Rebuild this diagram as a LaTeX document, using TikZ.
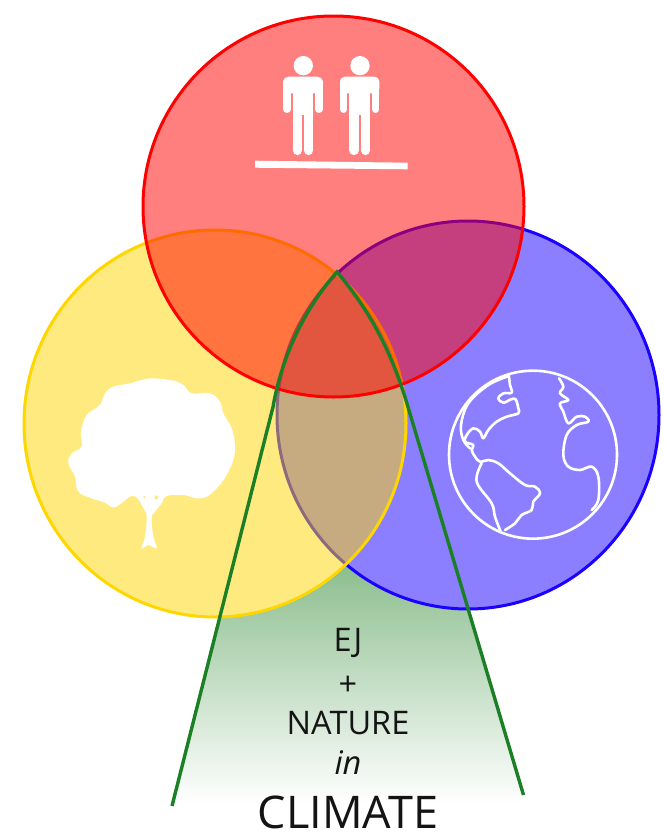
\documentclass[tikz,border=0pt]{standalone}
\usepackage{fontspec}
\setmainfont{Open Sans}
\definecolor{cred}{HTML}{FF0000}
\definecolor{cyel}{HTML}{FFD700}
\definecolor{cblu}{HTML}{1A00FF}
\definecolor{cgrn}{HTML}{1B7F25}
\definecolor{cgrad}{HTML}{8CBE8E}
\definecolor{cyelfill}{HTML}{FFEB80}
\tikzset{
  venn/.style={line width=3pt,fill opacity=.5,draw opacity=1},
  lbl/.style={inner sep=0pt,text=black!92,font=\fontsize{32.5}{33}\selectfont},
  iconfill/.style={fill=white,draw=none},
  iconline/.style={draw=white,line width=2.6pt,line join=round,line cap=round},
}
\newcommand{\redcirc}{(333.5,206.5) ellipse [x radius=190.5,y radius=190.5]}
\newcommand{\yelcirc}{(215,423.5) ellipse [x radius=191,y radius=193.5]}
\newcommand{\blucirc}{(468,415) ellipse [x radius=191,y radius=194]}
\newcommand{\personicon}[1]{%
  \begin{scope}[shift={(#1,0)},xscale=1/3,yscale=1/3]
    \fill[white] (0,77) circle (29);
    \fill[white,rounded corners=5pt] (-60,160) -- (-60,110) -- (58,110) -- (58,160) -- cycle;
    \fill[white] (-32,125) rectangle (30,225);
    \draw[white,line width=7.3pt,line cap=round] (-49,125) -- (-49,208);
    \draw[white,line width=7.3pt,line cap=round] (47,125) -- (47,208);
    \draw[white,line width=9.6pt,line cap=round] (-18,215) -- (-18,331);
    \draw[white,line width=9.6pt,line cap=round] (16,215) -- (16,331);
  \end{scope}}
\begin{document}
\begin{tikzpicture}[x=1pt,y=-1pt]
\useasboundingbox (0,0) rectangle (664,835);
\fill[white] (0,0) rectangle (664,835);
% gradient funnel
\begin{scope}
  \clip (172,806) -- (273,407) .. controls (281,360) and (303,310) .. (337,272)
        .. controls (365,305) and (390,345) .. (408,407) -- (523,795) -- (523,806) -- cycle;
  \shade[top color=cgrad,bottom color=white,shading angle=0] (100,565) rectangle (600,803);
\end{scope}
% masks
\fill[white] \blucirc;
\fill[white] \yelcirc;
\fill[white] \redcirc;
% venn circles
\path[venn,draw=cblu,fill=cblu] \blucirc;
\path[venn,draw=cyel,fill=cyel] \yelcirc;
\path[venn,draw=cred,fill=cred] \redcirc;
% green outline
\draw[cgrn,line width=3.4pt,line join=miter] (172,806) -- (273,407) .. controls (281,360) and (303,310) .. (337,272)
        .. controls (365,305) and (390,345) .. (408,407) -- (523.5,795);
% people
\begin{scope}[shift={(240,40)}]
  \personicon{63.3}
  \personicon{120}
\end{scope}
\fill[white] (255,160.7) -- (407.7,162.7) -- (407.7,169.3) -- (255,167.7) -- cycle;
% tree
\begin{scope}[shift={(50,360)},xscale=1/3,yscale=1/3]
  \fill[white] plot[smooth cycle,tension=.65] coordinates {
    (310,55) (370,62) (400,75) (425,100) (480,100) (510,125) (520,160) (545,205)
    (555,255) (550,300) (527,350) (500,385) (470,410) (440,415) (400,405) (350,408) (335,430)
    (315,455) (305,475) (310,530) (320,565) (295,555) (275,565) (285,530) (290,470)
    (280,445) (262,415) (240,410) (195,442) (165,428) (125,415) (85,395) (75,350)
    (55,310) (65,280) (95,260) (93,215) (110,165) (150,135) (165,100) (190,80)
    (240,70) (275,60)};
  \fill[cyelfill] (283,411) circle (4);
  \fill[cyelfill] (319,412) circle (6);
\end{scope}
% earth
\begin{scope}[shift={(435,360)},xscale=1/3,yscale=1/3]
  \draw[iconline] (294,284) circle (252);
  \draw[iconline] plot[smooth,tension=.6] coordinates {
    (222,50) (225,75) (230,98) (205,100) (190,115) (205,128) (228,118) (242,118) (250,145)
    (250,160) (215,170) (185,185) (160,210) (145,235) (135,215) (115,205) (95,225) (90,245)
    (115,255) (110,270) (120,290) (135,305) (160,300) (190,310) (225,340) (270,375) (300,380)
    (315,400) (295,425) (290,450) (260,465) (240,490) (210,510)};
  \draw[iconline] plot[smooth,tension=.6] coordinates {
    (140,310) (125,365) (170,430) (180,470) (197,515)};
  \draw[iconline] plot[smooth,tension=.6] coordinates {
    (222,48) (160,75) (100,130) (78,195) (85,240) (105,265)};
  \draw[iconline] plot[smooth,tension=.6] coordinates {
    (372,55) (385,80) (375,100) (400,120) (375,130) (385,155) (400,190) (425,170) (450,170)
    (460,185) (425,195) (395,225) (385,285) (400,320) (435,330) (470,320) (490,350) (490,420) (470,450)};
\end{scope}
% text
\node[lbl] (ej) at (348,643) {EJ};
\node[lbl] (plus) at (348,686) {+};
\node[lbl] (nature) at (348,723) {NATURE};
\node[lbl,font=\fontsize{32.5}{33}\selectfont\itshape] (inw) at (348,763) {in};
\node[lbl,font=\fontsize{45}{45}\selectfont,anchor=base] (climate) at (348,828) {CLIMATE};
\end{tikzpicture}
\end{document}
